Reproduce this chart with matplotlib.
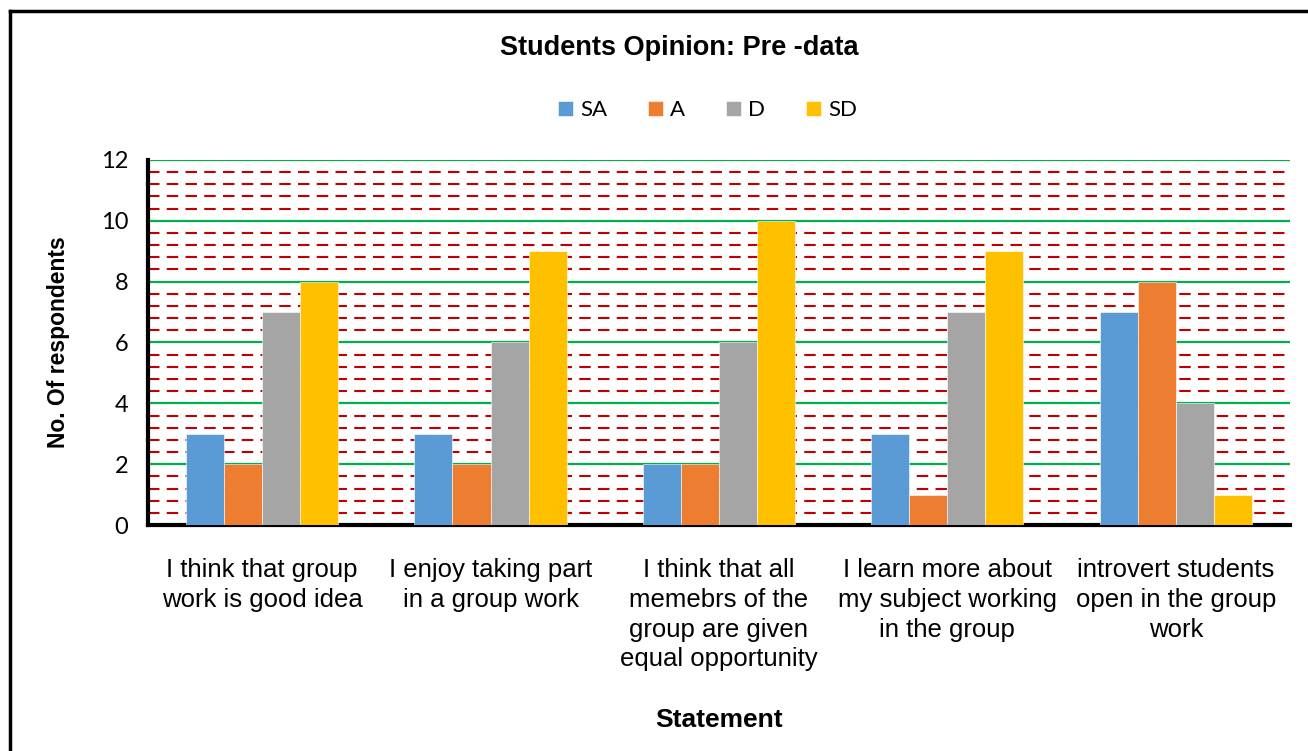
import matplotlib
matplotlib.use('Agg')
import matplotlib.pyplot as plt
import numpy as np
from matplotlib.lines import Line2D

# data
statements = ['I think that group\nwork is good idea',
              'I enjoy taking part\nin a group work',
              'I think that all\nmemebrs of the\ngroup are given\nequal opportunity',
              'I learn more about\nmy subject working\nin the group',
              'introvert students\nopen in the group\nwork']
SA = [3, 3, 2, 3, 7]
A = [2, 2, 2, 1, 8]
D = [7, 6, 6, 7, 4]
SD = [8, 9, 10, 9, 1]
series_names = ['SA', 'A', 'D', 'SD']
colors = ['#5B9BD5', '#ED7D31', '#A5A5A5', '#FFC000']

fig = plt.figure(figsize=(13.08, 7.51), dpi=100)
ax = fig.add_axes([0.1131, 0.3009, 0.8731, 0.4861])

x = np.arange(len(statements))
w = 1 / 6.0
for i, (vals, name, c) in enumerate(zip([SA, A, D, SD], series_names, colors)):
    ax.bar(x + (i - 1.5) * w, vals, w, color=c, label=name, zorder=3,
           edgecolor='white', linewidth=0.4)

ax.set_xlim(-0.5, len(statements) - 0.5)
ax.set_ylim(0, 12)
ax.set_yticks(np.arange(0, 13, 2))
ax.set_yticks(np.arange(0, 12.01, 0.4), minor=True)
ax.grid(axis='y', which='major', color='#00B050', linewidth=1.6, zorder=1)
ax.grid(axis='y', which='minor', color='#C00000', linewidth=1.5,
        linestyle=(0, (5.5, 3.5)), zorder=1)
ax.set_axisbelow(True)

ax.set_xticks(x)
ax.set_xticklabels(statements, fontsize=18.5, family='Liberation Sans',
                   linespacing=1.3, va='top')
ax.tick_params(axis='x', length=0, pad=24)
ax.tick_params(axis='y', which='both', length=0, pad=14)
for lab in ax.get_yticklabels():
    lab.set_fontsize(17)
    lab.set_family('Lato')

for s in ['top', 'right']:
    ax.spines[s].set_visible(False)
ax.spines['left'].set_linewidth(3)
ax.spines['bottom'].set_linewidth(3)

ax.set_ylabel('No. Of respondents', fontsize=16.5, fontweight='bold',
              family='Liberation Sans', labelpad=22)
ax.set_xlabel('Statement', fontsize=19, fontweight='bold',
              family='Liberation Sans', labelpad=26)

fig.text(0.5195, 0.936, 'Students Opinion: Pre -data', ha='center', va='center',
         fontsize=19.5, fontweight='bold', family='Liberation Sans')

leg = ax.legend(loc='center', bbox_to_anchor=(0.541, 0.853), bbox_transform=fig.transFigure,
                ncol=4, frameon=False, prop={'family': 'Lato', 'size': 16},
                handlelength=0.68, handleheight=0.68, handletextpad=0.3,
                columnspacing=1.85)

# outer chart border (top and left only visible)
fig.add_artist(Line2D([10 / 1308, 10 / 1308], [0, 1 - 11 / 751], color='black',
                      linewidth=2.5, transform=fig.transFigure))
fig.add_artist(Line2D([10 / 1308, 1], [1 - 11 / 751, 1 - 11 / 751], color='black',
                      linewidth=2.5, transform=fig.transFigure))

fig.savefig('out.png', dpi=100)
